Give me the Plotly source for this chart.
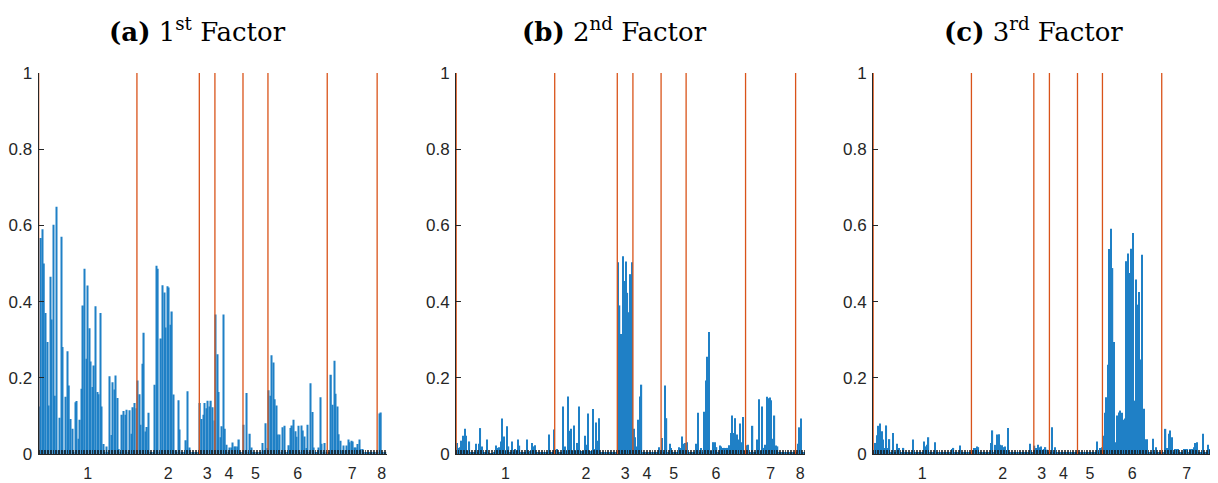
import plotly.graph_objects as go

# group sizes (variables per group) and group labels
group_sizes = [63, 40, 10, 18, 16, 38, 32, 6]
group_labels = ["1", "2", "3", "4", "5", "6", "7", "8"]
y_ticks = [0, 0.2, 0.4, 0.6, 0.8, 1.0]
y_ticklabels = ["0", "0.2", "0.4", "0.6", "0.8", "1"]
titles = ["<b>(a)</b> 1<sup>st</sup> Factor", "<b>(b)</b> 2<sup>nd</sup> Factor", "<b>(c)</b> 3<sup>rd</sup> Factor"]

# ---- Factor 1 loadings (per group) ----
a_g1 = [0.125, 0.567, 0.59, 0.50, 0.37, 0.294, 0.127, 0.465, 0.353, 0.602,
        0.153, 0.649, 0.01, 0.095, 0.57, 0.281, 0.01, 0.15, 0.27, 0.18,
        0.092, 0.066, 0.005, 0.136, 0.139, 0.04, 0.09, 0.171, 0.39, 0.486,
        0.25, 0.442, 0.33, 0.243, 0.176, 0.232, 0.388, 0.163, 0.157, 0.37,
        0.125, 0.026, 0.005, 0.02, 0.005, 0.204, 0.05, 0.188, 0.169, 0.206,
        0.147, 0.013, 0.005, 0.103, 0.113, 0.103, 0.116, 0.005, 0.115, 0.053,
        0.123, 0.134, 0.12]
a_g2 = [0.193, 0.157, 0.077, 0.237, 0.318, 0.059, 0.071, 0.108, 0.005, 0.005,
        0.005, 0.182, 0.494, 0.486, 0.005, 0.303, 0.443, 0.424, 0.332, 0.44,
        0.437, 0.339, 0.374, 0.156, 0.01, 0.005, 0.141, 0.064, 0.005, 0.005,
        0.005, 0.036, 0.165, 0.017, 0.005, 0.005, 0.005, 0.005, 0.005, 0.005]
a_g3 = [0.134, 0.092, 0.103, 0.134, 0.12, 0.14, 0.125, 0.14, 0.123, 0.088]
a_g4 = [0.366, 0.262, 0.163, 0.044, 0.073, 0.366, 0.066, 0.024, 0.005, 0.017,
        0.017, 0.03, 0.02, 0.02, 0.02, 0.038, 0.005, 0.005]
a_g5 = [0.077, 0.01, 0.16, 0.005, 0.053, 0.017, 0.005, 0.005, 0.005, 0.005,
        0.005, 0.005, 0.029, 0.01, 0.081, 0.016]
a_g6 = [0.167, 0.153, 0.259, 0.24, 0.144, 0.127, 0.051, 0.051, 0.005, 0.07,
        0.074, 0.005, 0.005, 0.023, 0.068, 0.075, 0.09, 0.06, 0.045, 0.074,
        0.005, 0.075, 0.062, 0.046, 0.016, 0.077, 0.005, 0.186, 0.11, 0.017,
        0.005, 0.005, 0.017, 0.149, 0.027, 0.005, 0.029, 0.005]
a_g7 = [0.005, 0.005, 0.208, 0.129, 0.245, 0.158, 0.125, 0.052, 0.035, 0.01,
        0.022, 0.01, 0.022, 0.038, 0.031, 0.035, 0.033, 0.017, 0.017, 0.026,
        0.038, 0.013, 0.013, 0.005, 0.005, 0.005, 0.005, 0.005, 0.005, 0.005,
        0.005, 0.005]
a_g8 = [0.005, 0.106, 0.109, 0.005, 0.005, 0.003]

# ---- Factor 2 loadings ----
b_g1 = [0.029, 0.016, 0.018, 0.035, 0.048, 0.066, 0.048, 0.008, 0.033, 0.005,
        0.005, 0.005, 0.027, 0.005, 0.027, 0.068, 0.02, 0.005, 0.005, 0.038,
        0.005, 0.002, 0.002, 0.002, 0.005, 0.022, 0.016, 0.018, 0.033, 0.093,
        0.046, 0.008, 0.073, 0.02, 0.005, 0.033, 0.005, 0.013, 0.008, 0.038,
        0.022, 0.003, 0.003, 0.003, 0.003, 0.038, 0.005, 0.008, 0.029, 0.02,
        0.023, 0.005, 0.003, 0.003, 0.003, 0.003, 0.003, 0.003, 0.005, 0.051,
        0.005, 0.005, 0.064]
b_g2 = [0.011, 0.013, 0.005, 0.005, 0.005, 0.125, 0.02, 0.008, 0.151, 0.061,
        0.066, 0.008, 0.075, 0.008, 0.029, 0.125, 0.008, 0.008, 0.008, 0.048,
        0.024, 0.106, 0.008, 0.008, 0.118, 0.013, 0.083, 0.035, 0.094, 0.005,
        0.005, 0.003, 0.003, 0.003, 0.003, 0.003, 0.003, 0.003, 0.003, 0.003]
b_g3 = [0.503, 0.39, 0.315, 0.519, 0.454, 0.505, 0.423, 0.372, 0.472, 0.503]
b_g4 = [0.066, 0.044, 0.02, 0.09, 0.151, 0.182, 0.005, 0.005, 0.003, 0.003,
        0.003, 0.005, 0.005, 0.003, 0.003, 0.005, 0.018, 0.005]
b_g5 = [0.042, 0.005, 0.18, 0.094, 0.005, 0.027, 0.016, 0.003, 0.003, 0.003,
        0.003, 0.018, 0.016, 0.046, 0.027, 0.029]
b_g6 = [0.031, 0.005, 0.005, 0.005, 0.005, 0.005, 0.027, 0.108, 0.005, 0.016,
        0.005, 0.111, 0.193, 0.255, 0.32, 0.008, 0.008, 0.031, 0.031, 0.018,
        0.005, 0.022, 0.02, 0.016, 0.016, 0.016, 0.016, 0.023, 0.055, 0.101,
        0.055, 0.094, 0.051, 0.038, 0.08, 0.031, 0.097, 0.008]
b_g7 = [0.023, 0.024, 0.005, 0.005, 0.074, 0.005, 0.005, 0.038, 0.144, 0.008,
        0.125, 0.016, 0.024, 0.15, 0.146, 0.148, 0.141, 0.04, 0.101, 0.022,
        0.02, 0.003, 0.003, 0.003, 0.003, 0.003, 0.003, 0.003, 0.003, 0.003,
        0.003, 0.003]
b_g8 = [0.005, 0.027, 0.07, 0.093, 0.005, 0.003]

# ---- Factor 3 loadings ----
c_g1 = [0.005, 0.029, 0.049, 0.074, 0.08, 0.06, 0.038, 0.016, 0.075, 0.016,
        0.039, 0.005, 0.055, 0.005, 0.005, 0.027, 0.016, 0.003, 0.003, 0.016,
        0.003, 0.003, 0.003, 0.003, 0.003, 0.038, 0.003, 0.003, 0.003, 0.005,
        0.005, 0.005, 0.033, 0.02, 0.024, 0.044, 0.005, 0.003, 0.003, 0.031,
        0.003, 0.003, 0.003, 0.003, 0.003, 0.003, 0.003, 0.003, 0.003, 0.003,
        0.013, 0.016, 0.005, 0.005, 0.005, 0.022, 0.003, 0.003, 0.003, 0.003,
        0.003, 0.003, 0.003]
c_g2 = [0.01, 0.016, 0.016, 0.02, 0.018, 0.003, 0.003, 0.003, 0.003, 0.003,
        0.003, 0.005, 0.029, 0.062, 0.005, 0.024, 0.051, 0.052, 0.024, 0.023,
        0.018, 0.02, 0.01, 0.068, 0.003, 0.003, 0.003, 0.003, 0.003, 0.003,
        0.003, 0.003, 0.003, 0.003, 0.003, 0.003, 0.005, 0.027, 0.005, 0.003]
c_g3 = [0.022, 0.016, 0.024, 0.018, 0.02, 0.011, 0.013, 0.018, 0.011, 0.005]
c_g4 = [0.005, 0.07, 0.005, 0.018, 0.003, 0.003, 0.003, 0.003, 0.003, 0.003,
        0.003, 0.003, 0.003, 0.003, 0.003, 0.003, 0.003, 0.003]
c_g5 = [0.003, 0.003, 0.003, 0.003, 0.003, 0.003, 0.003, 0.003, 0.003, 0.003,
        0.003, 0.003, 0.033, 0.005, 0.016, 0.018]
c_g6 = [0.048, 0.108, 0.149, 0.234, 0.538, 0.591, 0.488, 0.294, 0.031, 0.101,
        0.109, 0.114, 0.108, 0.09, 0.093, 0.506, 0.526, 0.475, 0.539, 0.58,
        0.14, 0.458, 0.392, 0.425, 0.248, 0.523, 0.119, 0.039, 0.039, 0.005,
        0.005, 0.005, 0.04, 0.005, 0.018, 0.003, 0.003, 0.003]
c_g7 = [0.005, 0.005, 0.066, 0.016, 0.053, 0.062, 0.044, 0.005, 0.013, 0.013,
        0.013, 0.003, 0.003, 0.003, 0.013, 0.013, 0.013, 0.003, 0.013, 0.013,
        0.018, 0.029, 0.031, 0.003, 0.005, 0.003, 0.053, 0.005, 0.003, 0.024,
        0.013, 0.003]
c_g8 = [0.005, 0.01, 0.005, 0.003, 0.003, 0.003]

factors = [
    a_g1 + a_g2 + a_g3 + a_g4 + a_g5 + a_g6 + a_g7 + a_g8,
    b_g1 + b_g2 + b_g3 + b_g4 + b_g5 + b_g6 + b_g7 + b_g8,
    c_g1 + c_g2 + c_g3 + c_g4 + c_g5 + c_g6 + c_g7 + c_g8,
]

N = sum(group_sizes)
idx = list(range(1, N + 1))
bounds = []
centers = []
c = 0
for g in group_sizes:
    bounds.append(c + 0.5)
    centers.append(c + g / 2 + 0.5)
    c += g

OFF = 8                       # page body margin offset
PW, PH = 1218, 483            # browser window
W, H = PW - OFF, PH - OFF


def fx(px):
    return (px - OFF) / W


def fy(py):
    return (H - (py - OFF)) / H


x0 = 0.4
x1 = N + 0.5
scale = (386.5 - 38.5) / (x1 - x0)  # px per unit
x_domains = [(fx(38.5), fx(386.5)), (fx(456), fx(805)), (fx(873), 1.0)]
x_ranges = [[x0, x1], [x0, x1], [x0, x0 + (PW - 873) / scale]]
y_dom = (fy(454), fy(73))
title_x = [fx(197.5), fx(615), fx(1033)]
title_y = fy(30)

BAR = "#1f80c6"
RED = "#D95319"
AX = "#262626"

fig = go.Figure()
layout = dict(
    width=W, height=H, margin=dict(l=0, r=0, t=0, b=0, autoexpand=False),
    paper_bgcolor="white", plot_bgcolor="white", showlegend=False,
    bargap=0.18, annotations=[],
)
for k in range(3):
    sfx = "" if k == 0 else str(k + 1)
    xa, ya = "x" + sfx, "y" + sfx
    fig.add_trace(go.Bar(x=idx, y=factors[k], marker=dict(color=BAR, line=dict(width=0)),
                         xaxis=xa, yaxis=ya))
    lx, ly = [], []
    for b in bounds:
        lx += [b, b, None]
        ly += [0, 1, None]
    fig.add_trace(go.Scatter(x=lx, y=ly, mode="lines", line=dict(color=RED, width=1.3),
                             xaxis=xa, yaxis=ya, hoverinfo="skip"))
    layout["xaxis" + sfx] = dict(
        domain=list(x_domains[k]), range=x_ranges[k], anchor=ya, automargin=False,
        tickmode="array", tickvals=centers, ticktext=group_labels, ticks="",
        showline=True, linecolor=AX, linewidth=1, showgrid=False, zeroline=False,
        tickfont=dict(family="Liberation Sans, Arial, sans-serif", size=16, color=AX),
        ticklabelstandoff=5,
        minor=dict(tickmode="linear", tick0=1, dtick=1, ticks="inside", ticklen=4,
                   tickwidth=1, tickcolor="rgba(20,20,20,0.75)", showgrid=False),
    )
    layout["yaxis" + sfx] = dict(
        domain=list(y_dom), range=[0, 1], anchor=xa, automargin=False,
        tickmode="array", tickvals=y_ticks, ticktext=y_ticklabels,
        ticks="inside", ticklen=5, tickcolor=AX, tickwidth=1,
        showline=True, linecolor=AX, linewidth=1, showgrid=False, zeroline=False,
        tickfont=dict(family="Liberation Sans, Arial, sans-serif", size=17, color=AX),
        ticklabelstandoff=2,
    )
    layout["annotations"].append(dict(
        text=titles[k], x=title_x[k], y=title_y, xref="paper", yref="paper",
        xanchor="center", yanchor="middle", showarrow=False,
        font=dict(family="DejaVu Serif, serif", size=26, color="black"),
    ))

fig.update_layout(**layout)
fig.write_html("out.html")
